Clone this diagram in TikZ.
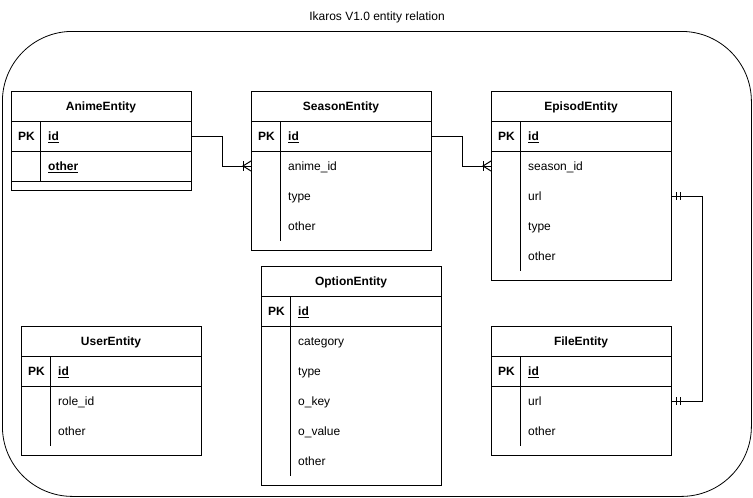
\documentclass[tikz,border=0pt]{standalone}
\usepackage{fontspec}
\setmainfont{Liberation Sans}
\begin{document}
\begin{tikzpicture}[x=1pt,y=-1pt,
  ent/.style={draw, line width=1pt, minimum width=180pt, anchor=north west, inner sep=0pt},
  hdr/.style={font=\fontsize{12}{14}\selectfont\bfseries, inner sep=0pt, text height=9pt, text depth=2.6pt},
  fld/.style={anchor=west, font=\fontsize{12}{14}\selectfont, inner sep=0pt, text height=9pt, text depth=2.6pt},
  pk/.style={anchor=west, font=\fontsize{12}{14}\selectfont\bfseries, inner sep=0pt, text height=9pt, text depth=2.6pt},
  ln/.style={line width=1pt},
  conn/.style={line width=1pt}]
\useasboundingbox (0,0) rectangle (753,498);

\newcommand\erentity[6]{%
  % #1 name, #2 x, #3 y, #4 title, #5 rows, #6 fields
  \node[ent, minimum height={30+30*#5+9}] (#1) at (#2,#3) {};
  \node[hdr] (#1-title) at (#2+90,#3+16.5) {#4};
  \draw[ln] (#2,#3+30) -- (#2+180,#3+30);
  \draw[ln] (#2,#3+60) -- (#2+180,#3+60);
  \draw[ln] (#2+29,#3+30) -- (#2+29,#3+30+30*#5);
  \node[pk] (#1-pk) at (#2+7,#3+46.5) {PK};
  \foreach \f [count=\i] in {#6} {
    \node[fld] (#1-f\i) at (#2+37,#3+16.5+30*\i) {\f};
  }
}
\newcommand\uid{\underline{\textbf{id}}}

\node[draw, line width=0.8pt, rounded corners=70pt, minimum width=749pt, minimum height=465pt,
  anchor=north west] (frame) at (2,31) {};
\node[font=\fontsize{12}{14}\selectfont] (title) at (377,17) {Ikaros V1.0 entity relation};

\erentity{anime}{11}{91}{AnimeEntity}{2}{\uid,\underline{\textbf{other}}}
\draw[ln] (11,181) -- (191,181);
\erentity{season}{251}{91}{SeasonEntity}{4}{\uid,anime\_id,type,other}
\erentity{episod}{491}{91}{EpisodEntity}{5}{\uid,season\_id,url,type,other}
\erentity{option}{261}{266}{OptionEntity}{6}{\uid,category,type,o\_key,o\_value,other}
\erentity{user}{21}{326}{UserEntity}{3}{\uid,role\_id,other}
\erentity{file}{491}{326}{FileEntity}{3}{\uid,url,other}

% anime -> season
\coordinate (a1) at (anime.east |- 0,136);
\coordinate (s2) at (season.west |- 0,166);
\draw[conn] (a1) -- ++(30,0) |- (s2);
\draw[conn] ([shift={(-8,-5)}]s2) -- ([shift={(-8,5)}]s2);
\draw[conn] ([shift={(0,-5)}]s2) -- ([shift={(-8,0)}]s2) -- ([shift={(0,5)}]s2);

% season -> episod
\coordinate (s1) at (season.east |- 0,136);
\coordinate (e2) at (episod.west |- 0,166);
\draw[conn] (s1) -- ++(30,0) |- (e2);
\draw[conn] ([shift={(-8,-5)}]e2) -- ([shift={(-8,5)}]e2);
\draw[conn] ([shift={(0,-5)}]e2) -- ([shift={(-8,0)}]e2) -- ([shift={(0,5)}]e2);

% episod url -- file url
\coordinate (e3) at (episod.east |- 0,196);
\coordinate (f2) at (file.east |- 0,401);
\draw[conn] (e3) -- ++(30,0) |- (f2);
\foreach \c in {e3,f2} {
  \draw[conn] ([shift={(4,-4)}]\c) -- ([shift={(4,4)}]\c);
  \draw[conn] ([shift={(8,-4)}]\c) -- ([shift={(8,4)}]\c);
}
\end{tikzpicture}
\end{document}
